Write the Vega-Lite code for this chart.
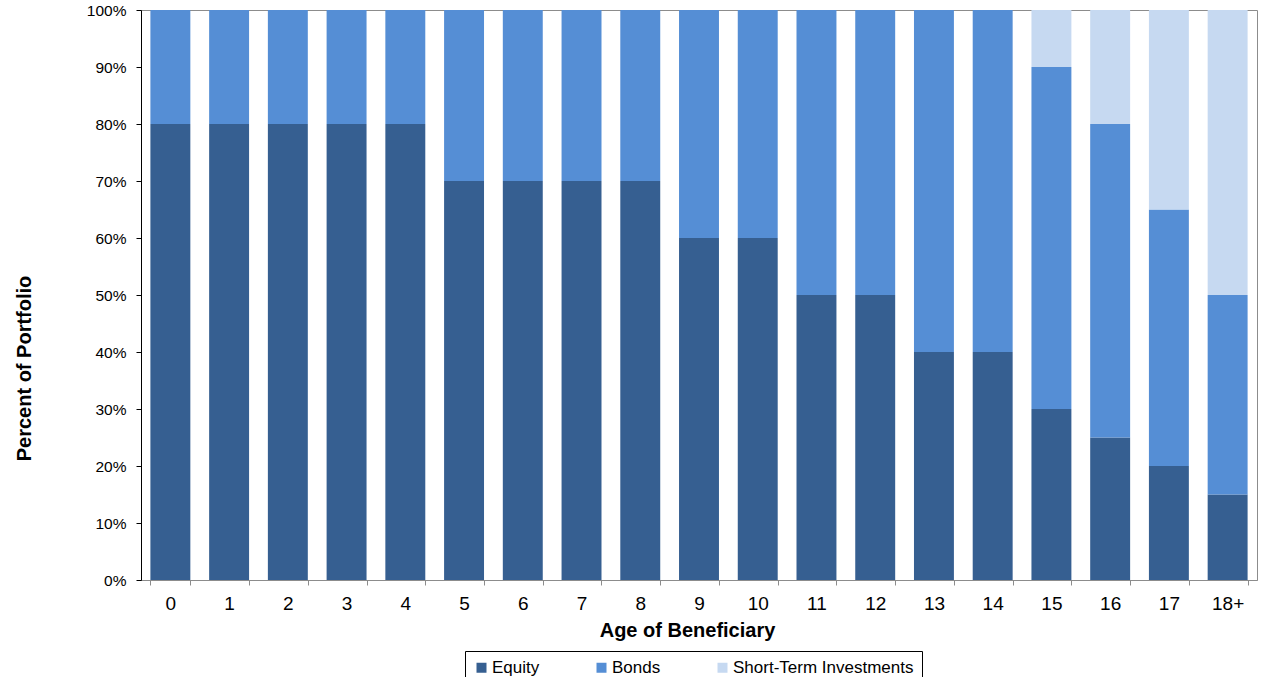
{
  "$schema": "https://vega.github.io/schema/vega-lite/v6.json",
  "width": 1116,
  "height": 570,
  "autosize": "none",
  "padding": {"left": 141, "top": 10, "right": 27, "bottom": 97},
  "background": "white",
  "config": {
    "font": "Liberation Sans",
    "view": {"stroke": "#8c8c8c", "strokeWidth": 1}
  },
  "data": {
    "values": [
      {"age": "0", "asset": "Equity", "ord": 1, "pct": 80},
      {"age": "0", "asset": "Bonds", "ord": 2, "pct": 20},
      {"age": "1", "asset": "Equity", "ord": 1, "pct": 80},
      {"age": "1", "asset": "Bonds", "ord": 2, "pct": 20},
      {"age": "2", "asset": "Equity", "ord": 1, "pct": 80},
      {"age": "2", "asset": "Bonds", "ord": 2, "pct": 20},
      {"age": "3", "asset": "Equity", "ord": 1, "pct": 80},
      {"age": "3", "asset": "Bonds", "ord": 2, "pct": 20},
      {"age": "4", "asset": "Equity", "ord": 1, "pct": 80},
      {"age": "4", "asset": "Bonds", "ord": 2, "pct": 20},
      {"age": "5", "asset": "Equity", "ord": 1, "pct": 70},
      {"age": "5", "asset": "Bonds", "ord": 2, "pct": 30},
      {"age": "6", "asset": "Equity", "ord": 1, "pct": 70},
      {"age": "6", "asset": "Bonds", "ord": 2, "pct": 30},
      {"age": "7", "asset": "Equity", "ord": 1, "pct": 70},
      {"age": "7", "asset": "Bonds", "ord": 2, "pct": 30},
      {"age": "8", "asset": "Equity", "ord": 1, "pct": 70},
      {"age": "8", "asset": "Bonds", "ord": 2, "pct": 30},
      {"age": "9", "asset": "Equity", "ord": 1, "pct": 60},
      {"age": "9", "asset": "Bonds", "ord": 2, "pct": 40},
      {"age": "10", "asset": "Equity", "ord": 1, "pct": 60},
      {"age": "10", "asset": "Bonds", "ord": 2, "pct": 40},
      {"age": "11", "asset": "Equity", "ord": 1, "pct": 50},
      {"age": "11", "asset": "Bonds", "ord": 2, "pct": 50},
      {"age": "12", "asset": "Equity", "ord": 1, "pct": 50},
      {"age": "12", "asset": "Bonds", "ord": 2, "pct": 50},
      {"age": "13", "asset": "Equity", "ord": 1, "pct": 40},
      {"age": "13", "asset": "Bonds", "ord": 2, "pct": 60},
      {"age": "14", "asset": "Equity", "ord": 1, "pct": 40},
      {"age": "14", "asset": "Bonds", "ord": 2, "pct": 60},
      {"age": "15", "asset": "Equity", "ord": 1, "pct": 30},
      {"age": "15", "asset": "Bonds", "ord": 2, "pct": 60},
      {"age": "15", "asset": "Short-Term Investments", "ord": 3, "pct": 10},
      {"age": "16", "asset": "Equity", "ord": 1, "pct": 25},
      {"age": "16", "asset": "Bonds", "ord": 2, "pct": 55},
      {"age": "16", "asset": "Short-Term Investments", "ord": 3, "pct": 20},
      {"age": "17", "asset": "Equity", "ord": 1, "pct": 20},
      {"age": "17", "asset": "Bonds", "ord": 2, "pct": 45},
      {"age": "17", "asset": "Short-Term Investments", "ord": 3, "pct": 35},
      {"age": "18+", "asset": "Equity", "ord": 1, "pct": 15},
      {"age": "18+", "asset": "Bonds", "ord": 2, "pct": 35},
      {"age": "18+", "asset": "Short-Term Investments", "ord": 3, "pct": 50}
    ]
  },
  "mark": {"type": "bar"},
  "encoding": {
    "x": {
      "field": "age",
      "type": "ordinal",
      "sort": null,
      "scale": {"paddingInner": 0.32, "paddingOuter": 0.16},
      "axis": {
        "title": "Age of Beneficiary",
        "titleFontSize": 20,
        "titleFontWeight": "bold",
        "titleColor": "#000",
        "titleX": 546,
        "titleY": 56,
        "titleAlign": "center",
        "titleBaseline": "alphabetic",
        "labelAngle": 0,
        "labelFontSize": 19,
        "labelColor": "#000",
        "labelPadding": 9,
        "domainColor": "#8c8c8c",
        "tickColor": "#8c8c8c",
        "tickSize": 5,
        "tickBand": "extent",
        "grid": false
      }
    },
    "y": {
      "field": "pct",
      "type": "quantitative",
      "stack": "zero",
      "scale": {"domain": [0, 100]},
      "axis": {
        "title": "Percent of Portfolio",
        "titleFontSize": 20,
        "titleFontWeight": "bold",
        "titleColor": "#000",
        "titleAngle": -90,
        "titleX": -117,
        "titleY": 358,
        "titleAlign": "center",
        "titleBaseline": "middle",
        "values": [0, 10, 20, 30, 40, 50, 60, 70, 80, 90, 100],
        "labelExpr": "datum.value + '%'",
        "labelFontSize": 15.5,
        "labelColor": "#000",
        "labelPadding": 10,
        "domainColor": "#000",
        "tickColor": "#000",
        "tickSize": 5,
        "grid": false
      }
    },
    "color": {
      "field": "asset",
      "type": "nominal",
      "scale": {
        "domain": ["Equity", "Bonds", "Short-Term Investments"],
        "range": ["#365F91", "#558ED5", "#C6D9F1"]
      },
      "legend": {
        "title": null,
        "orient": "none",
        "legendX": 324,
        "legendY": 641,
        "direction": "horizontal",
        "columnPadding": 53,
        "strokeColor": "#000",
        "fillColor": "#fff",
        "padding": 8,
        "symbolType": "square",
        "symbolSize": 100,
        "symbolStrokeWidth": 0,
        "labelFontSize": 17,
        "labelColor": "#000",
        "labelOffset": 2,
        "labelLimit": 400
      }
    },
    "order": {"field": "ord", "type": "quantitative", "sort": "ascending"}
  }
}
